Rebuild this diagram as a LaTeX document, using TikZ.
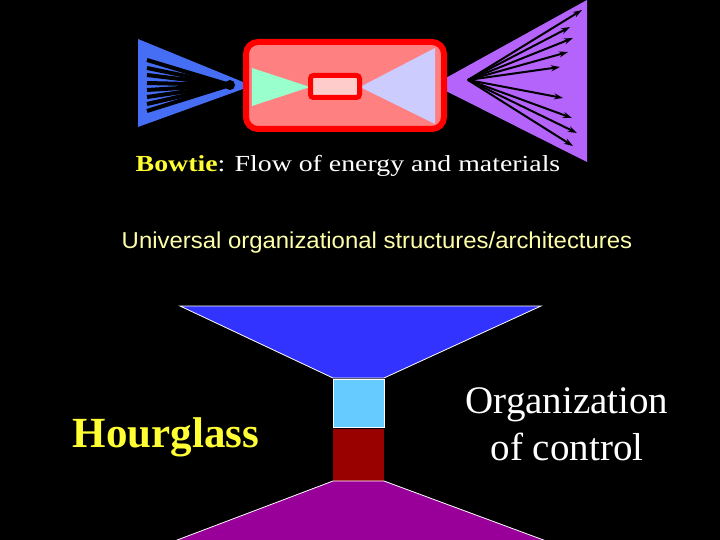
\documentclass[tikz,border=0pt]{standalone}
\usepackage{fontspec}
\setmainfont{Liberation Serif}
\setsansfont{Liberation Sans}
\usetikzlibrary{arrows.meta}
\definecolor{fanblue}{RGB}{70,110,245}
\definecolor{fanpurple}{RGB}{180,100,250}
\definecolor{boxred}{RGB}{255,0,0}
\definecolor{boxfill}{RGB}{255,128,128}
\definecolor{corefill}{RGB}{255,204,204}
\definecolor{ingreen}{RGB}{153,255,204}
\definecolor{outlav}{RGB}{204,204,255}
\definecolor{hgblue}{RGB}{51,51,255}
\definecolor{hglight}{RGB}{102,204,255}
\definecolor{hgred}{RGB}{153,0,0}
\definecolor{hgpurple}{RGB}{153,0,153}
\definecolor{titleyellow}{RGB}{255,255,51}
\definecolor{paleyellow}{RGB}{255,255,170}
\tikzset{
  inline/.style={line width=4pt, black},
  outarrow/.style={line width=2pt, black, -{Stealth[length=9pt,width=6pt]}},
  hgpart/.style={draw=white, line width=0.8pt},
  txt/.style={inner sep=0pt, anchor=base}
}
\begin{document}
\begin{tikzpicture}[x=1pt,y=-1pt]
\fill[black] (0,0) rectangle (720,540);
\useasboundingbox (0,0) rectangle (720,540);
% left fan
\fill[fanblue] (138,39) -- (243,82) -- (247,82) -- (247,89) -- (243,89) -- (138,127) -- cycle;
\coordinate (lc) at (230,85);
\foreach \yy [count=\i] in {60,68,75,83,90,97,104,111} {
  \coordinate (ls\i) at (147,\yy);
  \draw[inline] (ls\i) -- (lc);
}
\fill[black] (lc) circle (5);
% right fan
\fill[fanpurple] (444,79) -- (587,0) -- (587,162) -- (444,90) -- cycle;
\coordinate (rc) at (468,80);
\foreach \ex/\ey [count=\i] in {582/10,570/27,573/38,568/52,560/67,563/98,572/118,577/133,573/146} {
  \coordinate (re\i) at (\ex,\ey);
  \draw[outarrow] (rc) -- (re\i);
}
% central box
\draw[boxred, fill=boxfill, line width=6pt, rounded corners=12pt] (246,42) rectangle (444,129);
\fill[ingreen] (252,68) -- (310,87) -- (252,106) -- cycle;
\fill[outlav] (360,87) -- (435,48) -- (435,124) -- cycle;
\draw[boxred, fill=corefill, line width=5pt, rounded corners=3pt] (310.5,75.5) rectangle (359.5,97.5);
% captions
\node[txt] (bowtie) at (348,172) {\scalebox{1.21}[1]{\fontsize{23}{27}\selectfont\textcolor{titleyellow}{\textbf{Bowtie}}\textcolor{white}{: Flow of energy and materials}}};
\node[txt] (univ) at (377,248) {\scalebox{1.04}[1]{\sffamily\fontsize{23}{27}\selectfont\textcolor{paleyellow}{Universal organizational structures/architectures}}};
% hourglass
\draw[hgpart, fill=hgblue] (180,306) -- (541,306) -- (384,378) -- (333,378) -- cycle;
\draw[hgpart, fill=hglight] (333,379) rectangle (384,427);
\fill[hgred] (333,429) rectangle (384,481);
\draw[hgpart, fill=hgpurple] (333,481) -- (384,481) -- (557,545) -- (164,545) -- cycle;
\node[txt, text=titleyellow, font=\bfseries\fontsize{43}{50}\selectfont] (hg) at (166,447) {Hourglass};
\node[txt, text=white, font=\fontsize{39}{47}\selectfont] (org1) at (567,413) {Organization};
\node[txt, text=white, font=\fontsize{39}{47}\selectfont] (org2) at (567,460) {of control};
\end{tikzpicture}
\end{document}
